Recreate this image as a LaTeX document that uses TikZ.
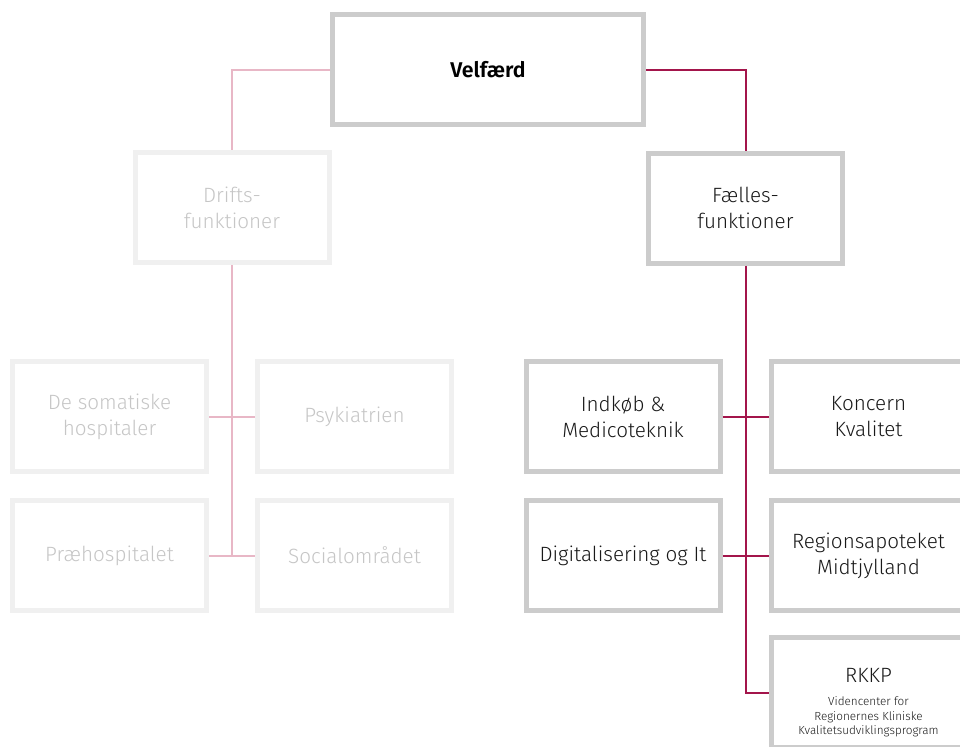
\documentclass[tikz,border=0pt]{standalone}
\usepackage{fontspec}
\setmainfont{Fira Sans Light}[BoldFont=Fira Sans SemiBold]
\usetikzlibrary{positioning}

\definecolor{boxgray}{HTML}{CCCCCC}
\definecolor{fadegray}{HTML}{F0F0F0}
\definecolor{fadetext}{HTML}{C6C6C6}
\definecolor{linedark}{HTML}{A3154B}
\definecolor{linelight}{HTML}{E8B7C6}

\begin{document}
\begin{tikzpicture}[x=0.75pt,y=-0.75pt,
	unit/.style={draw=boxgray,line width=3.75pt,fill=white,align=center,
		minimum width=145.5pt,minimum height=82.5pt,inner sep=2pt,
		font=\fontsize{15.5}{19.5}\selectfont,text=black!90},
	faded/.style={unit,draw=fadegray,text=fadetext},
	topunit/.style={unit,minimum width=233.25pt,font=\fontsize{16}{19.5}\selectfont\bfseries,text=black},
	darkline/.style={draw=linedark,line width=1.5pt},
	lightline/.style={draw=linelight,line width=1.5pt}]
	\useasboundingbox (0,0) rectangle (960,746);
	\clip (0,0) rectangle (960,746);

	% Top
	\node[topunit] (velfaerd) at (488,69.5) {Velfærd};

	% Driftsfunktioner (faded)
	\node[faded] (drifts) at (232,207.5) {Drifts-\\funktioner};
	\node[faded] (somatiske) at (109.5,416.5) {De somatiske\\hospitaler};
	\node[faded] (psyk) at (354.5,416.5) {Psykiatrien};
	\node[faded] (praehosp) at (109.5,555.5) {Præhospitalet};
	\node[faded] (social) at (354.5,555.5) {Socialområdet};

	% Fællesfunktioner
	\node[unit] (faelles) at (745.5,208) {Fælles-\\funktioner};
	\node[unit] (indkoeb) at (623,416.5) {Indkøb \&\\Medicoteknik};
	\node[unit] (koncern) at (868.5,416.5) {Koncern\\Kvalitet};
	\node[unit] (digital) at (623,555.5) {Digitalisering og It};
	\node[unit] (apotek) at (868.5,555.5) {Regionsapoteket\\Midtjylland};
	\node[unit] (rkkp) at (868.5,692.5) {};
	\node[align=center,font=\fontsize{15.5}{19.5}\selectfont,text=black!90,anchor=north]
		(rkkptitel) at (868.5,664) {RKKP};
	\node[align=center,font=\fontsize{8.8}{11.2}\selectfont,text=black!90,anchor=north,
		below=3pt of rkkptitel] (rkkptekst)
		{Videncenter for\\Regionernes Kliniske\\Kvalitetsudviklingsprogram};

	% Connectors
	\draw[lightline] (velfaerd.west) -| (drifts.north);
	\draw[lightline] (drifts.south) -- (drifts.south |- praehosp.east);
	\draw[lightline] (somatiske.east) -- (psyk.west);
	\draw[lightline] (praehosp.east) -- (social.west);

	\draw[darkline] (velfaerd.east) -| (faelles.north);
	\draw[darkline] (faelles.south) |- (rkkp.west);
	\draw[darkline] (indkoeb.east) -- (koncern.west);
	\draw[darkline] (digital.east) -- (apotek.west);
\end{tikzpicture}
\end{document}
